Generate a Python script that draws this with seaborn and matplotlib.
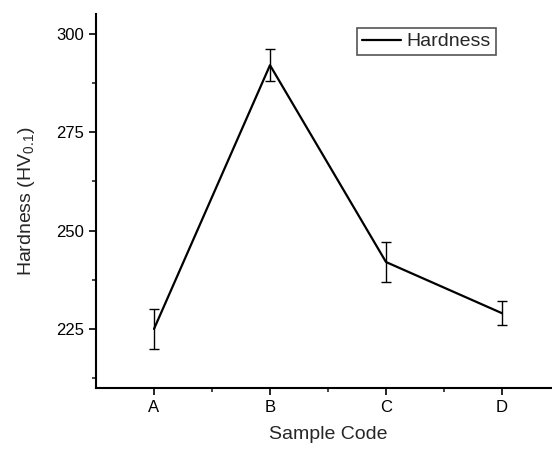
import numpy as np
import matplotlib
matplotlib.use('Agg')
import matplotlib.pyplot as plt
from matplotlib.ticker import FixedLocator, MultipleLocator
import seaborn as sns

# Data
samples = ['A', 'B', 'C', 'D']
hardness = [225, 292, 242, 229]
hardness_err = [5, 4, 5, 3]

sns.set_style('ticks')
plt.rcParams['font.family'] = ['Liberation Sans', 'DejaVu Sans']
plt.rcParams['mathtext.default'] = 'regular'

fig = plt.figure(figsize=(5.52, 4.49), dpi=100)
ax = fig.add_axes([96 / 552, 61 / 449, 464 / 552, 374 / 449])

pos = np.arange(len(samples))
sns.lineplot(x=pos, y=hardness, color='black', linewidth=1.6,
             label='Hardness', ax=ax)
ax.errorbar(pos, hardness, yerr=hardness_err, fmt='none', ecolor='black',
            elinewidth=1.0, capsize=3.5, capthick=1.0)

ax.set_xlim(-0.5, 3.5)
ax.set_ylim(210, 305)
ax.set_xticks(pos)
ax.set_xticklabels(samples)
ax.xaxis.set_minor_locator(FixedLocator([0.5, 1.5, 2.5]))
ax.set_yticks([225, 250, 275, 300])
ax.yaxis.set_minor_locator(MultipleLocator(12.5))

ax.tick_params(axis='both', which='major', direction='out', length=5,
               width=1.2, labelsize=12, colors='black')
ax.tick_params(axis='both', which='minor', direction='out', length=3,
               width=1.2)

ax.set_xlabel('Sample Code', fontsize=14, labelpad=8)
ax.set_ylabel(r'Hardness (HV$_{0.1}$)', fontsize=14, labelpad=14)

for side in ['top', 'right']:
    ax.spines[side].set_visible(False)
for side in ['left', 'bottom']:
    ax.spines[side].set_linewidth(1.5)
    ax.spines[side].set_color('black')

leg = ax.legend(loc='upper right', bbox_to_anchor=(0.862, 0.963),
                borderaxespad=0, fontsize=14, fancybox=False,
                handlelength=2.0, handletextpad=0.3, borderpad=0.25,
                framealpha=1)
leg.get_frame().set_edgecolor('#555555')
leg.get_frame().set_linewidth(1.2)

fig.savefig('out.png', dpi=100)
